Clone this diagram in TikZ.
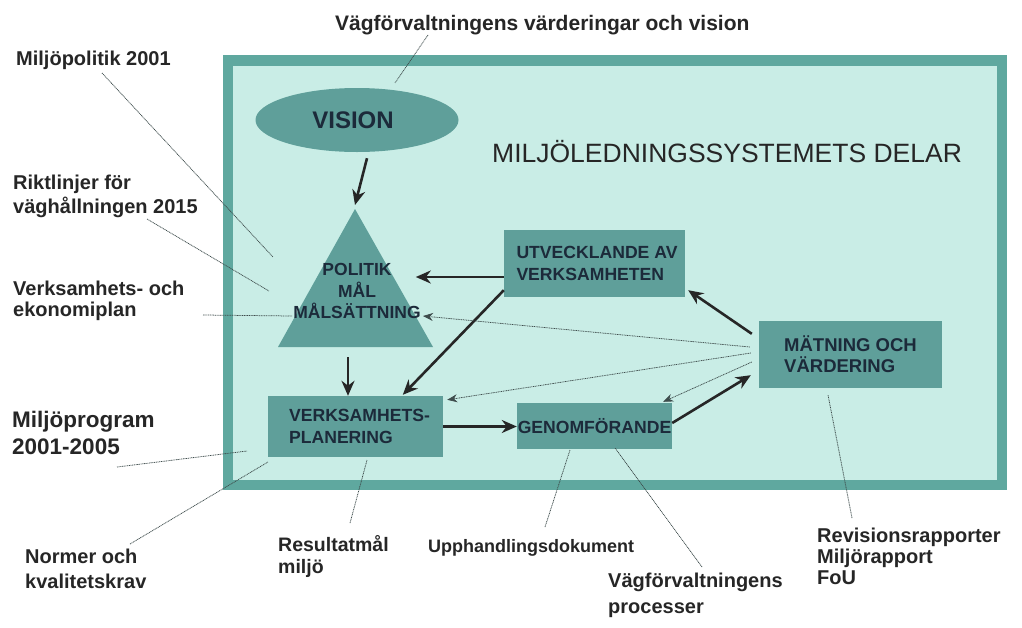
\documentclass[tikz,border=0pt]{standalone}
\usepackage{fontspec}
\setmainfont{Liberation Sans}
\usetikzlibrary{shapes.geometric,arrows.meta,calc}
\definecolor{framec}{HTML}{5FA89F}
\definecolor{fillc}{HTML}{C9EDE6}
\definecolor{boxc}{HTML}{5F9F9A}
\definecolor{boxtext}{HTML}{1C2A3A}
\definecolor{labc}{HTML}{262626}
\definecolor{arrc}{HTML}{262626}
\definecolor{dotc}{HTML}{3E4C4C}
\begin{document}
\begin{tikzpicture}[x=1pt,y=-1pt,
 lab/.style={anchor=base west,inner sep=0pt,align=left,text=labc,font=\bfseries\fontsize{20}{24}\selectfont},
 box/.style={fill=boxc,inner sep=0pt,text=boxtext,font=\bfseries\fontsize{17.6}{21.5}\selectfont,align=left},
 arr/.style={draw=arrc,line width=2.6pt,-{Stealth[length=15pt,width=13pt]}},
 dotarr/.style={draw=dotc,line width=0.75pt,dash pattern=on 1pt off 0.7pt,-{Stealth[length=10pt,width=8pt]}},
 lead/.style={draw=dotc,line width=0.75pt,dash pattern=on 1pt off 0.7pt}]
\useasboundingbox (0,0) rectangle (1022,627);
\fill[white] (0,0) rectangle (1022,627);
\draw[framec,fill=fillc,line width=10.5pt] (228,60.5) rectangle (1002,485);

% vision
\node[ellipse,fill=boxc,minimum width=203pt,minimum height=64pt,inner sep=0pt,text=boxtext,font=\bfseries\fontsize{24}{28}\selectfont] (vision) at (357,120) {VISION\hspace*{8pt}};

% triangle
\coordinate (tA) at (355,209);
\coordinate (tL) at (278,347);
\coordinate (tR) at (433,347);
\coordinate (tB) at (348,347);
\fill[boxc] (tA) -- (tR) -- (tL) -- cycle;

% leader line into the triangle (drawn under the text)
\coordinate (veL) at (203,315);
\coordinate (veR) at (292,316);
\draw[lead] (veL) -- (veR);

\node[inner sep=0pt,align=center,text=boxtext,font=\bfseries\fontsize{17.5}{21.5}\selectfont] (pol) at (357,291) {POLITIK\\MÅL\\MÅLSÄTTNING};

% boxes
\node[box,minimum width=181pt,minimum height=67pt] (utv) at (594.5,263.5) {\hspace*{5pt}UTVECKLANDE AV\\\hspace*{5pt}VERKSAMHETEN};
\node[box,minimum width=183pt,minimum height=67pt,font=\bfseries\fontsize{18.5}{21}\selectfont] (mat) at (850.5,354.5) {MÄTNING OCH\\VÄRDERING};
\node[box,minimum width=175pt,minimum height=61pt] (vp) at (355.5,426.5) {\hspace*{8pt}VERKSAMHETS-\\\hspace*{8pt}PLANERING};
\node[box,minimum width=155pt,minimum height=46pt,align=center] (gen) at (594.5,426) {GENOMFÖRANDE};

% title inside frame
\node[anchor=base west,inner sep=0pt,font=\fontsize{26.5}{30}\selectfont,text=labc] (delar) at (492,162) {MILJÖLEDNINGSSYSTEMETS DELAR};

% solid arrows
\draw[arr] ($(vision.south)+(10,6)$) -- ($(tA)+(0,-4)$);
\draw[arr] ($(tB)+(0,10)$) -- (tB |- vp.north);
\draw[arr] ($(utv.west)+(0,13.5)$) -- ($(utv.west)+(-88,13.5)$);
\draw[arr] ($(utv.south west)+(0,-7)$) -- ($(vp.north west)+(135,-1)$);
\draw[arr] (vp.east) -- (vp.east -| gen.west);
\draw[arr] ($(gen.east)+(0,-3)$) -- ($(mat.south west)+(-8,-13)$);
\draw[arr] ($(mat.north west)+(-7,13)$) -- ($(utv.south east)+(3,-7)$);

% dotted arrows
\coordinate (polR) at (423,316);
\draw[dotarr] ($(mat.west)+(-9,-7.5)$) -- (polR);
\draw[dotarr] ($(mat.west)+(-8,-1.5)$) -- ($(vp.north east)+(4,4)$);
\draw[dotarr] ($(mat.west)+(-7,7.5)$) -- ($(gen.north east)+(-9,-1)$);

% outside labels (multi-line nodes: base = last line)
\node[lab,font=\bfseries\fontsize{21}{24}\selectfont] (title) at (335,30) {Vägförvaltningens värderingar och vision};
\node[lab] (mp) at (16,65) {Miljöpolitik 2001};
\node[lab] (rk) at (13,213) {Riktlinjer för\\väghållningen 2015};
\node[lab,font=\bfseries\fontsize{20}{21}\selectfont] (ve) at (13,316) {Verksamhets- och\\ekonomiplan};
\node[lab,font=\bfseries\fontsize{22.5}{27}\selectfont] (prog) at (12,454) {Miljöprogram\\2001-2005};
\node[lab,font=\bfseries\fontsize{20}{25}\selectfont] (norm) at (25,588) {Normer och\\kvalitetskrav};
\node[lab,font=\bfseries\fontsize{19.5}{22}\selectfont] (res) at (278,573) {Resultatmål\\miljö};
\node[lab,font=\bfseries\fontsize{18}{22}\selectfont] (upph) at (428,552) {Upphandlingsdokument};
\node[lab,font=\bfseries\fontsize{20}{26}\selectfont] (proc) at (608,613) {Vägförvaltningens\\processer};
\node[lab,font=\bfseries\fontsize{20}{21}\selectfont] (rev) at (817,584) {Revisionsrapporter\\Miljörapport\\FoU};

% leader lines
\coordinate (tiA) at (428,35);   \coordinate (tiB) at (395,83);
\coordinate (mpA) at (102,73);   \coordinate (mpB) at (273,257);
\coordinate (rkA) at (147,219);  \coordinate (rkB) at (269,291);
\coordinate (prA) at (117,467);  \coordinate (prB) at (247,451);
\coordinate (noA) at (130,544);  \coordinate (noB) at (268,462);
\coordinate (reA) at (350,523);  \coordinate (reB) at (367,460);
\coordinate (upA) at (545,527);  \coordinate (upB) at (570,450);
\coordinate (pcA) at (702,567);  \coordinate (pcB) at (615,448);
\coordinate (rvA) at (852,518);  \coordinate (rvB) at (828,395);
\draw[lead] (tiA) -- (tiB);
\draw[lead] (mpA) -- (mpB);
\draw[lead] (rkA) -- (rkB);
\draw[lead] (prA) -- (prB);
\draw[lead] (noA) -- (noB);
\draw[lead] (reA) -- (reB);
\draw[lead] (upA) -- (upB);
\draw[lead] (pcA) -- (pcB);
\draw[lead] (rvA) -- (rvB);
\end{tikzpicture}
\end{document}
